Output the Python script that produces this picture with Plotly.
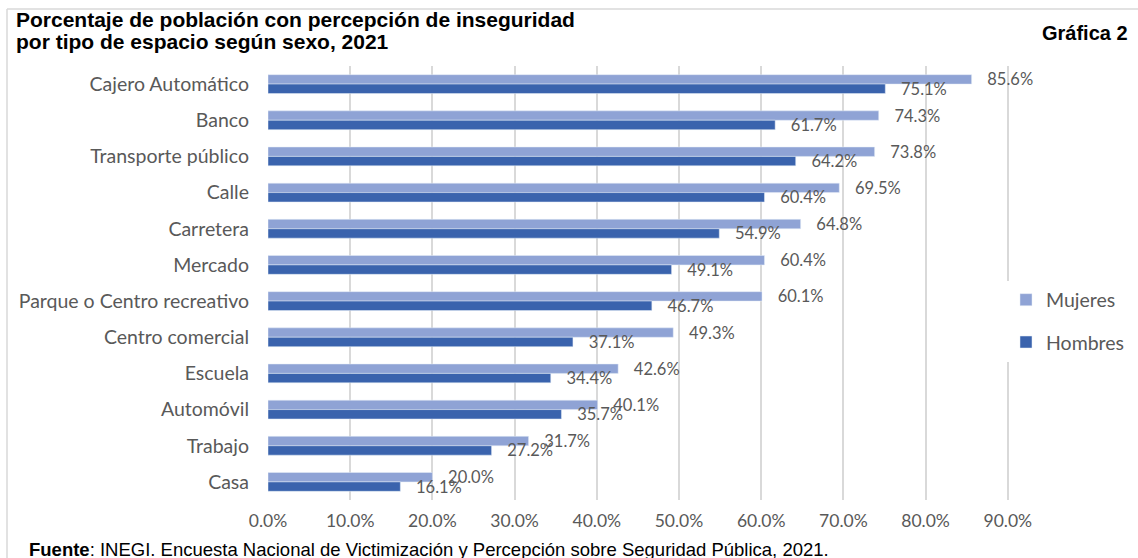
import plotly.graph_objects as go

categories = ["Cajero Automático", "Banco", "Transporte público", "Calle", "Carretera",
              "Mercado", "Parque o Centro recreativo", "Centro comercial", "Escuela",
              "Automóvil", "Trabajo", "Casa"]
mujeres = [85.6, 74.3, 73.8, 69.5, 64.8, 60.4, 60.1, 49.3, 42.6, 40.1, 31.7, 20.0]
hombres = [75.1, 61.7, 64.2, 60.4, 54.9, 49.1, 46.7, 37.1, 34.4, 35.7, 27.2, 16.1]
x_ticks = [0, 10, 20, 30, 40, 50, 60, 70, 80, 90]
x_tick_labels = ["0.0%", "10.0%", "20.0%", "30.0%", "40.0%", "50.0%", "60.0%", "70.0%", "80.0%", "90.0%"]

L, W, T, H = 268, 748, 66, 434
def px(xp):
    return (xp - L) / W
def py(yp):
    return (T + H - yp) / H

FONT = "Lato, Open Sans, sans-serif"
ARIAL = "Liberation Sans, Arial, sans-serif"
lbl_font = dict(family=FONT, size=16.5, color="#595959")
pad = "\u00a0\u00a0\u00a0"

fig = go.Figure()
fig.add_trace(go.Bar(
    y=categories, x=mujeres, orientation="h", name="Mujeres",
    marker=dict(color="#8FA3D5"), legendgroup="m",
    texttemplate=pad + "%{x:.1f}%", textposition="outside", constraintext="none",
    cliponaxis=False, textfont=lbl_font, hoverinfo="skip"))
fig.add_trace(go.Bar(
    y=categories, x=hombres, orientation="h", name="Hombres",
    marker=dict(color="#3A63AD"), legendgroup="h",
    texttemplate=pad + "%{x:.1f}%", textposition="outside", constraintext="none",
    cliponaxis=False, textfont=lbl_font, hoverinfo="skip"))

fig.update_layout(
    width=1138, height=558,
    margin=dict(l=L, r=1138 - L - W, t=T, b=558 - T - H, autoexpand=False),
    paper_bgcolor="white", plot_bgcolor="white",
    barmode="group", bargap=0.48, bargroupgap=0,
    showlegend=True,
    legend=dict(x=px(1006), y=py(321), xanchor="left", yanchor="middle",
                traceorder="grouped", tracegroupgap=14,
                font=dict(family=FONT, size=19.5, color="#595959"),
                itemwidth=30),
    xaxis=dict(range=[0, 91], tickvals=x_ticks, ticktext=x_tick_labels,
               showgrid=True, gridcolor="#D9D9D9", gridwidth=1.5,
               zeroline=False, showline=False, ticks="",
               ticklabelstandoff=8,
               tickfont=dict(family=FONT, size=17.5, color="#595959")),
    yaxis=dict(autorange="reversed", showgrid=False, zeroline=False, showline=False,
               ticks="", ticklabelstandoff=18,
               tickfont=dict(family=FONT, size=19.5, color="#595959")),
    shapes=[
        dict(type="line", xref="paper", yref="paper",
             x0=px(7), x1=px(1140), y0=py(9), y1=py(9),
             line=dict(color="#D9D9D9", width=1.5), layer="below"),
        dict(type="line", xref="paper", yref="paper",
             x0=px(7), x1=px(7), y0=py(9), y1=py(560),
             line=dict(color="#D9D9D9", width=1.5), layer="below"),
    ],
    annotations=[
        dict(text="<b>Porcentaje de población con percepción de inseguridad</b>",
             xref="paper", yref="paper", x=px(14), y=py(20), xanchor="left", yanchor="middle",
             showarrow=False, font=dict(family=ARIAL, size=21, color="black")),
        dict(text="<b>por tipo de espacio según sexo, 2021</b>",
             xref="paper", yref="paper", x=px(14), y=py(41), xanchor="left", yanchor="middle",
             showarrow=False, font=dict(family=ARIAL, size=21, color="black")),
        dict(text="<b>Gráfica 2</b>",
             xref="paper", yref="paper", x=px(1130), y=py(33), xanchor="right", yanchor="middle",
             showarrow=False, font=dict(family=ARIAL, size=20, color="black")),
        dict(text="<b>Fuente</b>: INEGI. Encuesta Nacional de Victimización y Percepción sobre Seguridad Pública, 2021.",
             xref="paper", yref="paper", x=px(27), y=py(549), xanchor="left", yanchor="middle",
             showarrow=False, font=dict(family=ARIAL, size=18.5, color="black")),
    ],
)

fig.write_html("out.html", config={"displayModeBar": False},
               post_script="document.body.style.margin='0';document.body.style.overflow='hidden';")
